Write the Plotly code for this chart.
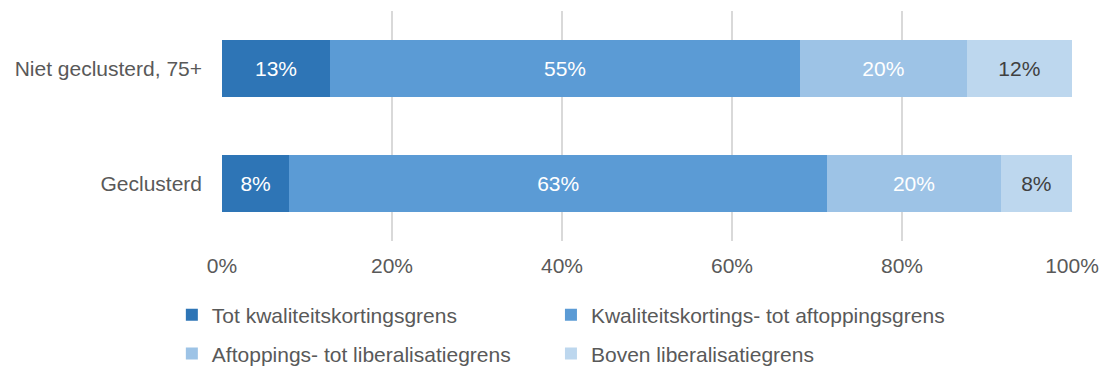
import plotly.graph_objects as go

categories = ["Geclusterd", "Niet geclusterd, 75+"]
series_names = [
    "Tot kwaliteitskortingsgrens",
    "Kwaliteitskortings- tot aftoppingsgrens",
    "Aftoppings- tot liberalisatiegrens",
    "Boven liberalisatiegrens",
]
# shares per category (Geclusterd, Niet geclusterd 75+), in percent
tot_kwaliteit = [7.9, 12.7]
kwaliteit_aftop = [63.3, 55.3]
aftop_liberal = [20.4, 19.6]
boven_liberal = [8.4, 12.4]
tick_vals = [0, 20, 40, 60, 80, 100]
tick_text = ["0%", "20%", "40%", "60%", "80%", "100%"]

FONT = "Liberation Sans, Arial"
FS = 21
colors = ["#2E75B6", "#5B9BD5", "#9DC3E6", "#BDD7EE"]
text_colors = ["white", "white", "white", "#404040"]
# one legend box per entry, laid out as a 2x2 grid below the axis
legend_ids = ["legend", "legend2", "legend3", "legend4"]
legend_pos = [(-0.059, -0.322), (0.387, -0.322), (-0.059, -0.491), (0.387, -0.491)]

fig = go.Figure()
for name, vals, col, tcol, lg in zip(
    series_names,
    [tot_kwaliteit, kwaliteit_aftop, aftop_liberal, boven_liberal],
    colors, text_colors, legend_ids,
):
    fig.add_trace(go.Bar(
        y=categories, x=vals, name=name, orientation="h",
        marker=dict(color=col, line=dict(width=0)),
        text=vals, texttemplate="%{x:.0f}%", textposition="inside",
        insidetextanchor="middle", constraintext="none",
        textfont=dict(color=tcol, size=FS, family=FONT),
        legend=lg, width=0.5,
    ))

legend_common = dict(
    orientation="h", xanchor="left", yanchor="middle",
    font=dict(size=FS, color="#595959", family=FONT),
    itemwidth=30, bgcolor="rgba(0,0,0,0)",
)

fig.update_layout(
    barmode="stack",
    width=1105, height=370,
    margin=dict(l=222, r=33, t=11, b=129, autoexpand=False),
    plot_bgcolor="white", paper_bgcolor="white",
    font=dict(family=FONT, size=FS, color="#595959"),
    xaxis=dict(
        range=[0, 100], tickvals=tick_vals, ticktext=tick_text,
        showgrid=True, gridcolor="#D9D9D9", gridwidth=2,
        zeroline=False, showline=False, ticks="", ticklabelstandoff=10,
        tickfont=dict(size=FS, color="#595959"),
    ),
    yaxis=dict(
        range=[-0.5, 1.5], showgrid=False, zeroline=False,
        ticks="", ticklabelstandoff=19,
        tickfont=dict(size=FS, color="#595959"),
    ),
    showlegend=True,
)
for lg, (lx, ly) in zip(legend_ids, legend_pos):
    fig.update_layout({lg: dict(x=lx, y=ly, **legend_common)})

fig.write_html("out.html")
